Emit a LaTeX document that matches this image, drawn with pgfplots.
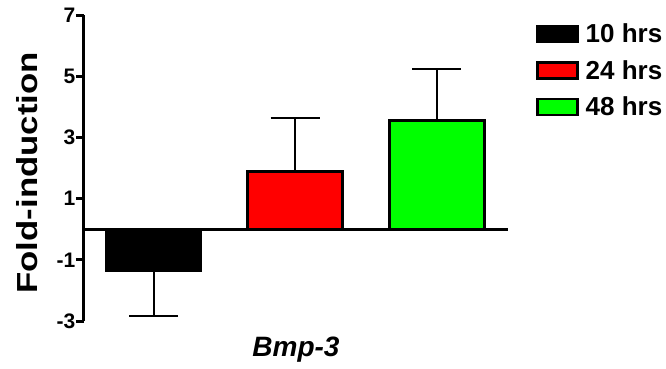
\documentclass[border=0pt]{standalone}
\usepackage{pgfplots}
\pgfplotsset{compat=1.18}
\usepackage{graphicx}
\usepackage{fontspec}
\setmainfont{Liberation Sans}
\definecolor{myred}{RGB}{255,0,0}
\definecolor{mygreen}{RGB}{0,255,0}
\begin{document}
\begin{tikzpicture}
\begin{axis}[
  scale only axis,
  width=424pt, height=306pt,
  at={(0,0)}, anchor=south west,
  xmin=-0.491, xmax=2.504,
  ymin=-3, ymax=7,
  axis y line*=left,
  axis x line*=bottom,
  x axis line style={draw=none},
  xtick=\empty,
  ytick={-3,-1,1,3,5,7},
  yticklabels={-3,-1,1,3,5,7},
  tick align=outside,
  major tick length=8pt,
  y axis line style={line width=3pt},
  every tick/.style={line width=3pt, black},
  yticklabel style={font=\bfseries\fontsize{21}{21}\selectfont, inner sep=0.5pt},
  ylabel={\scalebox{1.2}[1]{\bfseries Fold-induction}},
  ylabel style={font=\fontsize{29}{29}\selectfont, at={(axis description cs:-0.134,0.484)}, anchor=center},
  xlabel={\bfseries\itshape Bmp-3},
  xlabel style={font=\fontsize{28}{28}\selectfont, at={(axis description cs:0.5,-0.092)}, anchor=center},
  legend style={draw=none, fill=none, at={(axis description cs:1.066,0.978)}, anchor=north west,
    font=\bfseries\fontsize{26}{26}\selectfont, row sep=12pt, inner sep=0pt,
    nodes={inner sep=2pt}},
  legend cell align=left,
  legend image code/.code={\draw[#1, line width=2.5pt] (0pt,-8pt) rectangle (40pt,8pt);},
  /tikz/every odd column/.append style={column sep=5pt},
  error bars/error bar style={line width=2pt, black},
  error bars/error mark options={rotate=90, mark size=24.5pt, line width=2pt, black},
  clip=false,
]
\addplot[ybar, bar width=0.67, bar shift=0pt, fill=black, draw=black, line width=3pt,
  error bars/.cd, y dir=minus, y explicit]
  coordinates {(0,-1.36) -= (0,1.48)};
\addlegendentry{10 hrs}
\addplot[ybar, bar width=0.67, bar shift=0pt, fill=myred, draw=black, line width=3pt,
  error bars/.cd, y dir=plus, y explicit]
  coordinates {(1,1.87) += (0,1.75)};
\addlegendentry{24 hrs}
\addplot[ybar, bar width=0.67, bar shift=0pt, fill=mygreen, draw=black, line width=3pt,
  error bars/.cd, y dir=plus, y explicit]
  coordinates {(2,3.56) += (0,1.67)};
\addlegendentry{48 hrs}
\addplot[black, line width=3pt, forget plot] coordinates {(-0.491,0) (2.504,0)};
\end{axis}
\pgfresetboundingbox
\path (-84pt,-47pt) rectangle (582pt,321pt);
\end{tikzpicture}
\end{document}
